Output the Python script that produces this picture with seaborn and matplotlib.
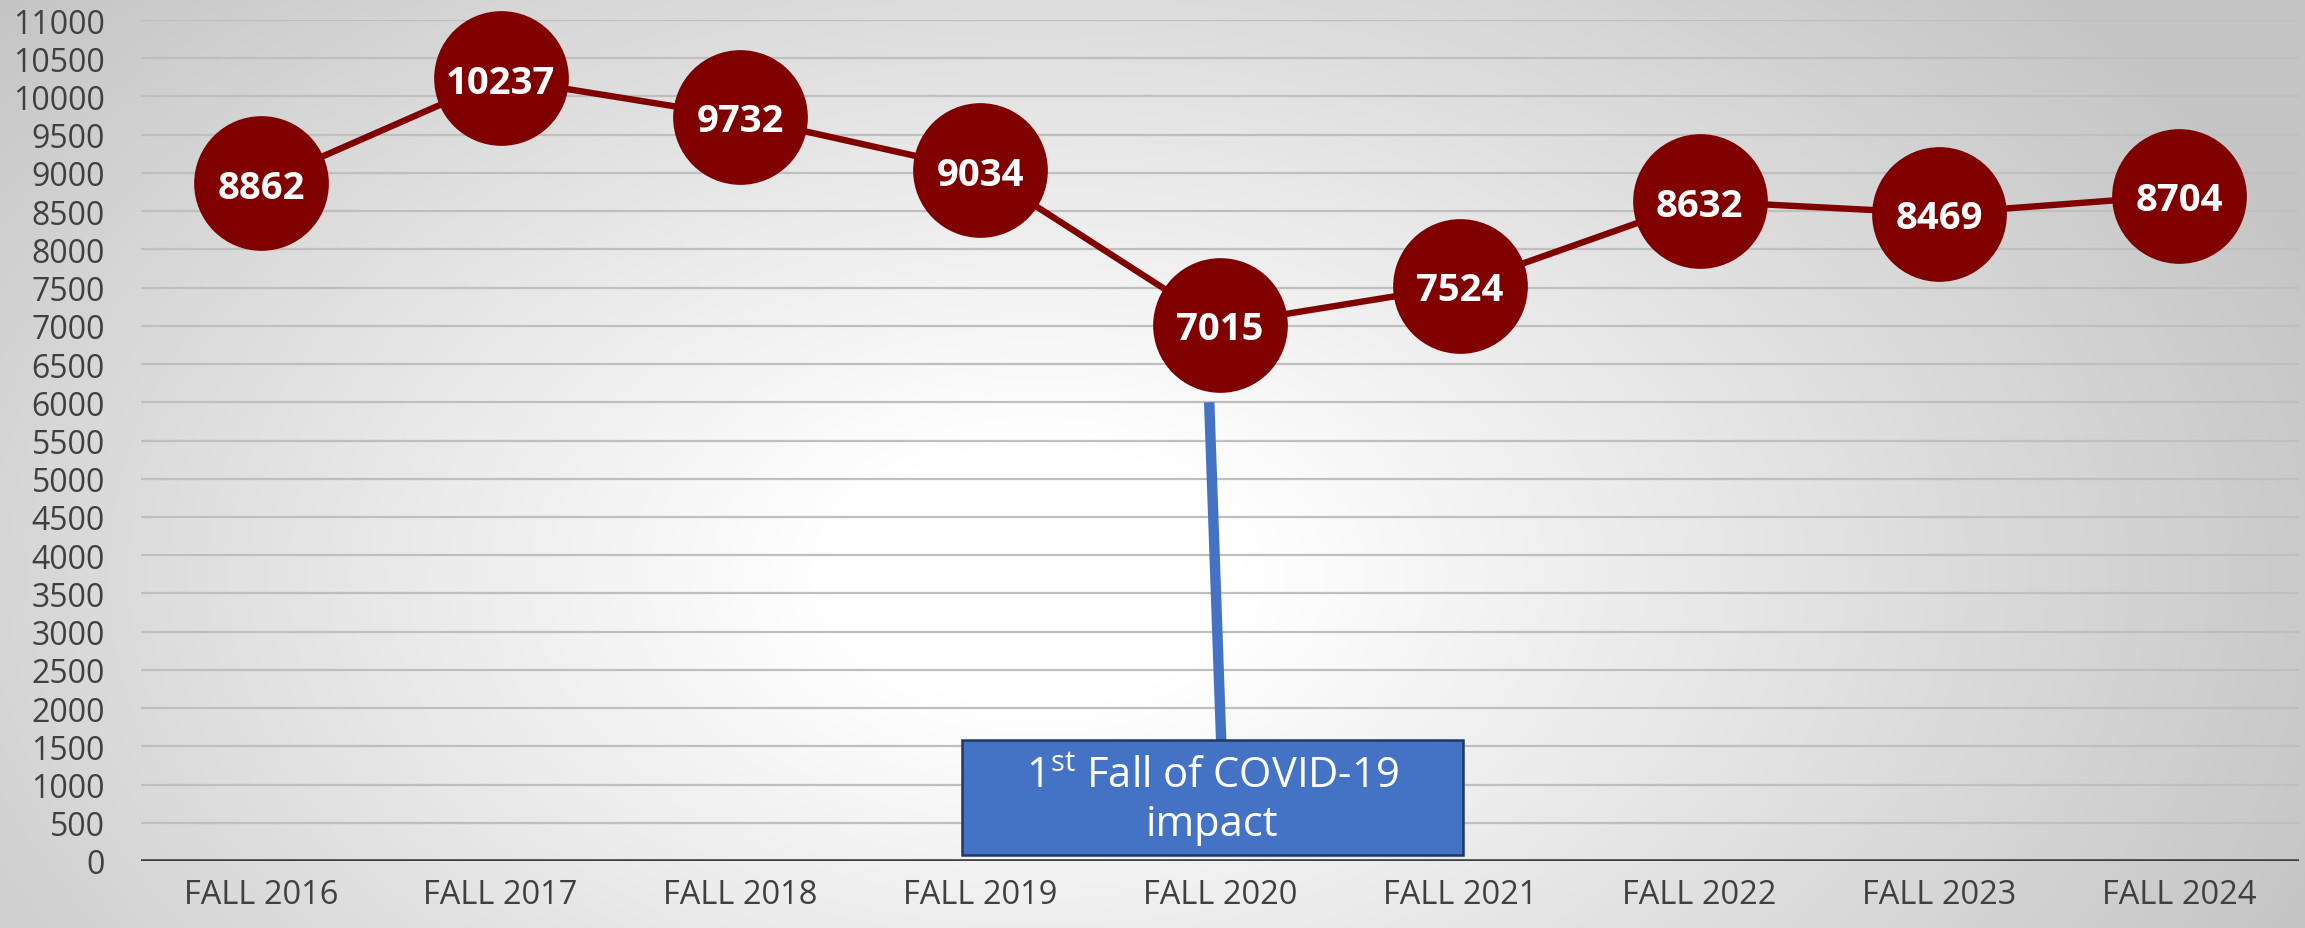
import numpy as np
import pandas as pd
import matplotlib
matplotlib.use("Agg")
import matplotlib.pyplot as plt
from matplotlib.patches import Rectangle
import seaborn as sns

# Fall enrollment headcount
terms = ["FALL 2016", "FALL 2017", "FALL 2018", "FALL 2019", "FALL 2020",
         "FALL 2021", "FALL 2022", "FALL 2023", "FALL 2024"]
headcount = [8862, 10237, 9732, 9034, 7015, 7524, 8632, 8469, 8704]
y_ticks = list(range(0, 11001, 500))

callout_text = "1$^{\\mathregular{st}}$ Fall of COVID-19\nimpact"

df = pd.DataFrame({"term": terms, "headcount": headcount})

sns.set_theme(style="white")
plt.rcParams["font.family"] = ["Open Sans", "DejaVu Sans"]

W, H, DPI = 2305, 929, 100
fig = plt.figure(figsize=(W / DPI, H / DPI), dpi=DPI)

# radial grey-to-white backdrop behind everything
bg = fig.add_axes([0, 0, 1, 1], zorder=-10)
yy, xx = np.mgrid[0:H, 0:W]
cx, cy = 0.45 * W, 0.62 * H
d = np.sqrt(((xx - cx) / (0.6 * W)) ** 2 + ((yy - cy) / (0.95 * H)) ** 2)
t = np.clip((d - 0.15) / 0.85, 0, 1)
shade = 1.0 - (1.0 - 0.77) * t
bg.imshow(np.dstack([shade] * 3), aspect="auto", extent=[0, 1, 0, 1], origin="upper")
bg.axis("off")

ax = fig.add_axes([141 / W, (H - 862) / H, (2299 - 141) / W, (862 - 21) / H])
ax.set_facecolor("none")

sns.lineplot(data=df, x="term", y="headcount", sort=False, ax=ax,
             color="#800000", linewidth=4.6, marker="o", markersize=97,
             markeredgewidth=0, zorder=5, clip_on=False)

for i, v in enumerate(headcount):
    ax.text(i, v, str(v), ha="center", va="center_baseline", color="white",
            fontsize=27.5, fontweight="bold", zorder=6)

ax.set_xlim(-0.5, len(terms) - 0.5)
ax.set_ylim(0, 11000)
ax.set_yticks(y_ticks)
ax.set_yticklabels([str(v) for v in y_ticks])
ax.yaxis.grid(True, color="#bfbfbf", linewidth=1.6)
ax.xaxis.grid(False)
ax.axhline(0, color="#404040", linewidth=2.6, zorder=3)
for s in ax.spines.values():
    s.set_visible(False)
ax.tick_params(axis="y", length=0, pad=26, labelsize=23, labelcolor="#404040")
ax.tick_params(axis="x", length=0, pad=12, labelsize=23.5, labelcolor="#404040")
ax.set_xlabel("")
ax.set_ylabel("")

# COVID-19 callout
ax.plot([3.955, 4.005], [6000, 1560], color="#4472C4", linewidth=7.5,
        solid_capstyle="butt", zorder=4)
ax.add_patch(Rectangle((2.925, 80), 5.012 - 2.925, 1500, facecolor="#4472C4",
                       edgecolor="#1F3864", linewidth=1.8, zorder=4))
ax.text(3.968, 800, callout_text, ha="center", va="center", color="white",
        fontsize=30, linespacing=1.2, zorder=5)

fig.savefig("out.png", dpi=DPI)
